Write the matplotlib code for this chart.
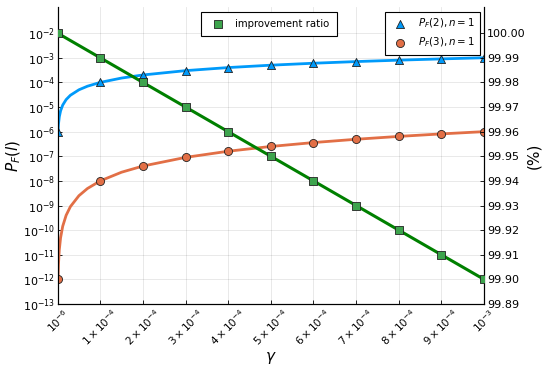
import matplotlib.pyplot as plt

plt.rcParams['font.family'] = ['DejaVu Sans']
plt.rcParams['mathtext.fontset'] = 'dejavusans'

# marker positions (gamma)
gamma = [1e-6, 1e-4, 2e-4, 3e-4, 4e-4, 5e-4, 6e-4, 7e-4, 8e-4, 9e-4, 1e-3]
pf2 = [1e-6, 1e-4, 2e-4, 3e-4, 4e-4, 5e-4, 6e-4, 7e-4, 8e-4, 9e-4, 1e-3]
pf3 = [1e-12, 1e-8, 4e-8, 9e-8, 1.6e-7, 2.5e-7, 3.6e-7, 4.9e-7, 6.4e-7, 8.1e-7, 1e-6]
ratio = [99.9999, 99.99, 99.98, 99.97, 99.96, 99.95, 99.94, 99.93, 99.92, 99.91, 99.90]

# curve samples
gamma_c = [1e-6, 2e-6, 4e-6, 7e-6, 1.2e-5, 2e-5, 3e-5, 5e-5, 7e-5, 1e-4, 1.5e-4,
           2e-4, 3e-4, 4e-4, 5e-4, 6e-4, 7e-4, 8e-4, 9e-4, 1e-3]
pf2_c = [1e-6, 2e-6, 4e-6, 7e-6, 1.2e-5, 2e-5, 3e-5, 5e-5, 7e-5, 1e-4, 1.5e-4,
         2e-4, 3e-4, 4e-4, 5e-4, 6e-4, 7e-4, 8e-4, 9e-4, 1e-3]
pf3_c = [1e-12, 4e-12, 1.6e-11, 4.9e-11, 1.44e-10, 4e-10, 9e-10, 2.5e-9, 4.9e-9, 1e-8,
         2.25e-8, 4e-8, 9e-8, 1.6e-7, 2.5e-7, 3.6e-7, 4.9e-7, 6.4e-7, 8.1e-7, 1e-6]

xticks = [1e-6] + [k * 1e-4 for k in range(1, 10)] + [1e-3]
xlabels = [r'$10^{-6}$'] + [r'$%d\times10^{-4}$' % k for k in range(1, 10)] + [r'$10^{-3}$']
yticks = [10.0 ** e for e in range(-13, -1)]
ylabels = [r'$10^{%d}$' % e for e in range(-13, -1)]
rticks = [99.89 + 0.01 * k for k in range(12)]

blue = '#009AFA'
red = '#E26F46'
green = '#008000'

fig = plt.figure(figsize=(5.5, 3.71), dpi=100)
ax = fig.add_axes([0.1055, 0.1806, 0.7745, 0.8004])
ax.set_yscale('log')
ax.plot(gamma_c, pf2_c, color=blue, lw=2)
ax.plot(gamma_c, pf3_c, color=red, lw=2)
h2 = ax.scatter(gamma, pf2, marker='^', s=34, c=blue, edgecolors='#222222', linewidths=0.6, zorder=5)
h3 = ax.scatter(gamma, pf3, marker='o', s=34, c=red, edgecolors='#222222', linewidths=0.6, zorder=5)

ax.set_xlim(1e-6, 1e-3)
ax.set_ylim(1e-13, 10 ** -0.94)
ax.set_xticks(xticks)
ax.set_xticklabels(xlabels, rotation=45, ha='center', fontsize=7.5)
ax.set_yticks(yticks)
ax.set_yticklabels(ylabels, fontsize=8)
ax.minorticks_off()
ax.grid(True, color='#000000', alpha=0.1, lw=0.6)
ax.tick_params(direction='in', length=3, width=0.6, pad=2)
ax.spines['top'].set_visible(False)
ax.set_xlabel(r'$\gamma$', fontsize=11)
ax.xaxis.set_label_coords(0.5, -0.155)
ax.set_ylabel(r'$P_F(l)$', fontsize=11)
ax.yaxis.set_label_coords(-0.083, 0.5)

ax2 = ax.twinx()
ax2.plot(gamma, ratio, color=green, lw=2.2)
hg = ax2.scatter(gamma, ratio, marker='s', s=32, c='#3DA44D', edgecolors='#222222', linewidths=0.6, zorder=5)
ax2.set_ylim(99.89, 100.0106)
ax2.set_yticks(rticks)
ax2.set_yticklabels(['%.2f' % v for v in rticks], fontsize=8)
ax2.tick_params(direction='in', length=3, width=0.6, pad=2)
ax2.spines['top'].set_visible(False)
ax2.set_ylabel('(%)', fontsize=11)
ax2.yaxis.set_label_coords(1.1, 0.5)

leg1 = ax2.legend([hg], ['improvement ratio'], loc='upper left', bbox_to_anchor=(0.335, 0.985),
                  fontsize=7.3, fancybox=False, edgecolor='black', framealpha=1,
                  borderpad=0.7, handletextpad=0.7, borderaxespad=0)
leg1.get_frame().set_linewidth(0.8)
ax2.add_artist(leg1)
leg2 = ax2.legend([h2, h3], [r'$P_F(2), n=1$', r'$P_F(3), n=1$'], loc='upper right',
                  bbox_to_anchor=(0.99, 0.985), fontsize=7.4, fancybox=False,
                  edgecolor='black', framealpha=1, borderpad=0.5, handletextpad=0.7,
                  labelspacing=0.55, borderaxespad=0)
leg2.get_frame().set_linewidth(0.8)

fig.savefig('out.png', dpi=100)
